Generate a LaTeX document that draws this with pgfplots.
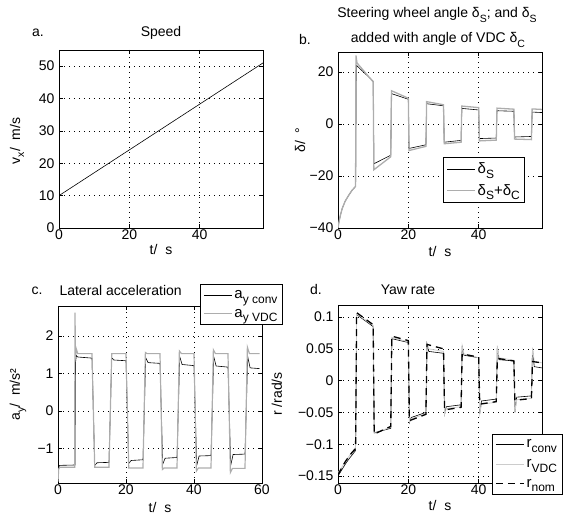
\documentclass[border=0pt]{standalone}
\usepackage{pgfplots}
\pgfplotsset{compat=1.18}
\usepackage{fontspec}
\setmainfont{Liberation Sans}
\newcommand{\sub}[1]{\raisebox{-0.55ex}{\fontsize{10.5}{11}\selectfont #1}}
\newcommand{\lsub}[1]{\raisebox{-0.6ex}{\fontsize{12}{13}\selectfont #1}}
\definecolor{g1}{gray}{0.68}
\definecolor{g2}{gray}{0.80}
\pgfplotsset{
  panel/.style={scale only axis, anchor=south west,
    axis line style={line width=0.8pt}, grid=major,
    major grid style={black, line width=0.7pt, dash pattern=on 0.7pt off 4.3pt},
    tick style={black, line width=0.6pt}, major tick length=4pt,
    /pgf/number format/assume math mode=true,
    tick label style={font=\fontsize{14}{16}\selectfont},
    label style={font=\fontsize{14}{16}\selectfont},
    xticklabel style={yshift=2pt},
    yticklabel style={xshift=-1pt},
    legend style={draw=black, line width=0.6pt, fill=white,
      font=\fontsize{15}{17}\selectfont, legend cell align=left,
      inner xsep=3pt, inner ysep=4pt, row sep=5pt},
    legend image code/.code={\draw[##1] (4pt,0pt) -- (32pt,0pt);},
    clip=true},
}
\begin{document}
\begin{tikzpicture}
\useasboundingbox (0,0) rectangle (571pt,516pt);
% ---------- a. Speed
\begin{axis}[panel, at={(59pt,288pt)}, width=204pt, height=178pt,
  xmin=0, xmax=58, ymin=0, ymax=55,
  xtick={0,20,40}, xticklabels={0,20,40},
  ytick={0,10,20,30,40,50}, yticklabels={0,10,20,30,40,50},
  xlabel={t/\ \ s}, ylabel={v\sub{x}/\ \ m/s},
  xlabel style={at={(axis description cs:0.5,-0.118)}, anchor=center},
  ylabel style={at={(axis description cs:-0.206,0.49)}, anchor=center}]
\addplot[black, line width=0.6pt] coordinates {(0,10) (58,51)};
\end{axis}
\node[font=\fontsize{14}{16}\selectfont] at (161pt,483pt) {Speed};
\node[font=\fontsize{14}{16}\selectfont] at (38pt,483pt) {a.};
% ---------- b. Steering
\begin{axis}[panel, at={(338pt,288pt)}, width=204pt, height=176pt,
  xmin=0, xmax=58, ymin=-40, ymax=27.7,
  xtick={0,20,40}, xticklabels={0,20,40},
  ytick={-40,-20,0,20}, yticklabels={−40,−20,0,20},
  xlabel={t/\ \ s}, ylabel={δ/\ \ °},
  xlabel style={at={(axis description cs:0.5,-0.136)}, anchor=center},
  ylabel style={at={(axis description cs:-0.186,0.5)}, anchor=center},
  legend style={at={(0.515,0.142)}, anchor=south west}]
\addplot[black, line width=0.6pt] coordinates {
(0,-40) (0.3,-37.5) (0.7,-35) (1.2,-32.5) (2,-29.8) (3,-27.5) (4,-25.5) (5,-24)
(5.2,22.6) (10,16.5) (10.2,-15.3) (15,-12) (15.2,11.7) (20,9.5) (20.2,-9.4) (25,-8)
(25.2,7.8) (30,7) (30.2,-7) (35,-6.3) (35.2,6) (40,5.4) (40.2,-5.6) (45,-5.4)
(45.2,5.1) (50,4.9) (50.2,-5) (55,-4.8) (55.2,4.6) (58,4.4)};
\addlegendentry{δ\lsub{S}}
\addplot[g1, line width=1.3pt] coordinates {
(0,-40) (0.3,-37.5) (0.7,-35) (1.2,-32.5) (2,-29.8) (3,-27.5) (4,-25.5) (5,-24)
(5.1,26.4) (5.4,23.5) (10,16.2) (10.2,-17.6) (15,-12.6) (15.2,12.8) (20,9.9) (20.2,-10.2) (25,-8.6)
(25.2,8.6) (30,7.4) (30.2,-7.6) (35,-7) (35.2,6.9) (40,6.3) (40.2,-6.5) (45,-6.2)
(45.2,6.1) (50,5.7) (50.2,-5.8) (55,-6) (55.2,5.8) (58,5.6)};
\addlegendentry{δ\lsub{S}+δ\lsub{C}}
\end{axis}
\node[font=\fontsize{14}{16}\selectfont] at (437pt,501pt) {Steering wheel angle δ\sub{S}; and δ\sub{S}};
\node[font=\fontsize{14}{16}\selectfont] at (438pt,476pt) {added with angle of VDC δ\sub{C}};
\node[font=\fontsize{14}{16}\selectfont] at (305pt,476pt) {b.};
% ---------- c. Lateral acceleration
\begin{axis}[panel, at={(58pt,33pt)}, width=204pt, height=177pt,
  xmin=0, xmax=60, ymin=-1.92, ymax=2.8,
  xtick={0,20,40,60}, xticklabels={0,20,40,60},
  ytick={-1,0,1,2}, yticklabels={−1,0,1,2},
  xlabel={t/\ \ s}, ylabel={a\sub{y}/\ \ m/s²},
  xlabel style={at={(axis description cs:0.5,-0.136)}, anchor=center},
  ylabel style={at={(axis description cs:-0.196,0.5)}, anchor=center},
  legend style={at={(0.696,0.893)}, anchor=south west, row sep=5pt}]
\addplot[black, line width=0.6pt] coordinates {
(0,-1.3) (0.2,-1.5) (0.5,-1.45) (5,-1.44) (5.15,1.3) (5.4,1.48) (5.8,1.44) (10,1.41)
(10.8,-1.45) (11.5,-1.38) (15,-1.37) (15.8,1.42) (16.4,1.36) (20,1.34)
(20.8,-1.4) (21.5,-1.32) (25,-1.3) (25.8,1.42) (26.5,1.29) (30,1.27)
(30.8,-1.42) (31.5,-1.26) (35,-1.24) (35.8,1.45) (36.5,1.24) (40,1.21)
(40.8,-1.45) (41.5,-1.2) (45,-1.19) (45.8,1.45) (46.5,1.2) (50,1.17)
(50.8,-1.45) (51.5,-1.16) (55,-1.15) (55.8,1.45) (56.5,1.15) (59.3,1.13)};
\addlegendentry{a\lsub{y conv}}
\addplot[g1, line width=1.2pt] coordinates {
(0,-1.88) (0.2,-1.55) (0.5,-1.5) (4.9,-1.5) (5.0,2.62) (5.15,1.45) (5.4,1.65) (5.8,1.53)
(10,1.53) (10.8,-1.5) (15,-1.5) (15.8,1.53) (20,1.53) (20.8,-1.52) (25,-1.52)
(25.7,1.56) (26.2,1.53) (30,1.53) (30.7,-1.56) (31.2,-1.52) (35,-1.52)
(35.7,1.6) (36.3,1.53) (40,1.53) (40.7,-1.6) (41.3,-1.52) (45,-1.52)
(45.7,1.63) (46.3,1.53) (50,1.53) (50.7,-1.64) (51.3,-1.53) (55,-1.53)
(55.7,1.7) (56.3,1.53) (59.3,1.53)};
\addlegendentry{a\lsub{y VDC}}
\end{axis}
\node[font=\fontsize{14}{16}\selectfont, anchor=west] at (56pt,225pt) {Lateral acceleration};
\node[font=\fontsize{14}{16}\selectfont] at (37pt,225pt) {c.};
% ---------- d. Yaw rate
\begin{axis}[panel, at={(338pt,33pt)}, width=204pt, height=178pt,
  xmin=0, xmax=58, ymin=-0.161, ymax=0.119,
  xtick={0,20,40}, xticklabels={0,20,40},
  ytick={-0.15,-0.1,-0.05,0,0.05,0.1}, yticklabels={−0.15,−0.1,−0.05,0,0.05,0.1},
  xlabel={t/\ \ s}, ylabel={r /rad/s},
  xlabel style={at={(axis description cs:0.5,-0.124)}, anchor=center},
  ylabel style={at={(axis description cs:-0.30,0.5)}, anchor=center},
  legend style={at={(0.755,-0.067)}, anchor=south west, row sep=6pt}]
\addplot[black, line width=0.6pt] coordinates {
(0,-0.15) (1,-0.141) (2,-0.132) (3,-0.124) (4,-0.117) (5,-0.11)
(5.3,0.104) (10,0.085) (10.3,-0.082) (15,-0.075) (15.3,0.066) (20,0.06)
(20.3,-0.066) (20.8,-0.058) (25,-0.05) (25.3,0.058) (25.8,0.046) (30,0.043)
(30.3,-0.053) (30.8,-0.041) (35,-0.038) (35.3,0.055) (35.8,0.04) (40,0.036)
(40.3,-0.052) (40.8,-0.032) (45,-0.029) (45.3,0.053) (45.8,0.033) (50,0.031)
(50.3,-0.05) (50.8,-0.026) (55,-0.024) (55.3,0.05) (55.8,0.022) (58,0.02)};
\addlegendentry{r\lsub{conv}}
\addplot[g2, line width=0.8pt] coordinates {
(0,-0.145) (1,-0.137) (2,-0.128) (3,-0.12) (4,-0.112) (5,-0.105)
(5.3,0.105) (10,0.087) (10.3,-0.083) (15,-0.073) (15.3,0.068) (20,0.061)
(20.3,-0.065) (20.8,-0.06) (25,-0.052) (25.3,0.058) (25.8,0.05) (30,0.046)
(30.3,-0.053) (30.8,-0.044) (35,-0.041) (35.3,0.055) (35.8,0.042) (40,0.036)
(40.3,-0.052) (40.8,-0.037) (45,-0.034) (45.3,0.055) (45.8,0.036) (50,0.032)
(50.3,-0.05) (50.8,-0.03) (55,-0.028) (55.3,0.052) (55.8,0.03) (58,0.028)};
\addlegendentry{r\lsub{VDC}}
\addplot[black, line width=1.3pt, dash pattern=on 7pt off 5pt] coordinates {
(0,-0.148) (1,-0.138) (2,-0.128) (3,-0.12) (4,-0.113) (5,-0.107)
(5.3,0.107) (10,0.088) (10.3,-0.084) (15,-0.072) (15.3,0.07) (20,0.063)
(20.3,-0.063) (25,-0.053) (25.3,0.057) (30,0.05) (30.3,-0.046) (35,-0.042)
(35.3,0.042) (40,0.037) (40.3,-0.037) (45,-0.033) (45.3,0.035) (50,0.031)
(50.3,-0.031) (55,-0.028) (55.3,0.03) (58,0.028)};
\addlegendentry{r\lsub{nom}}
\end{axis}
\node[font=\fontsize{14}{16}\selectfont] at (408pt,226pt) {Yaw rate};
\node[font=\fontsize{14}{16}\selectfont] at (316pt,226pt) {d.};
\end{tikzpicture}
\end{document}
